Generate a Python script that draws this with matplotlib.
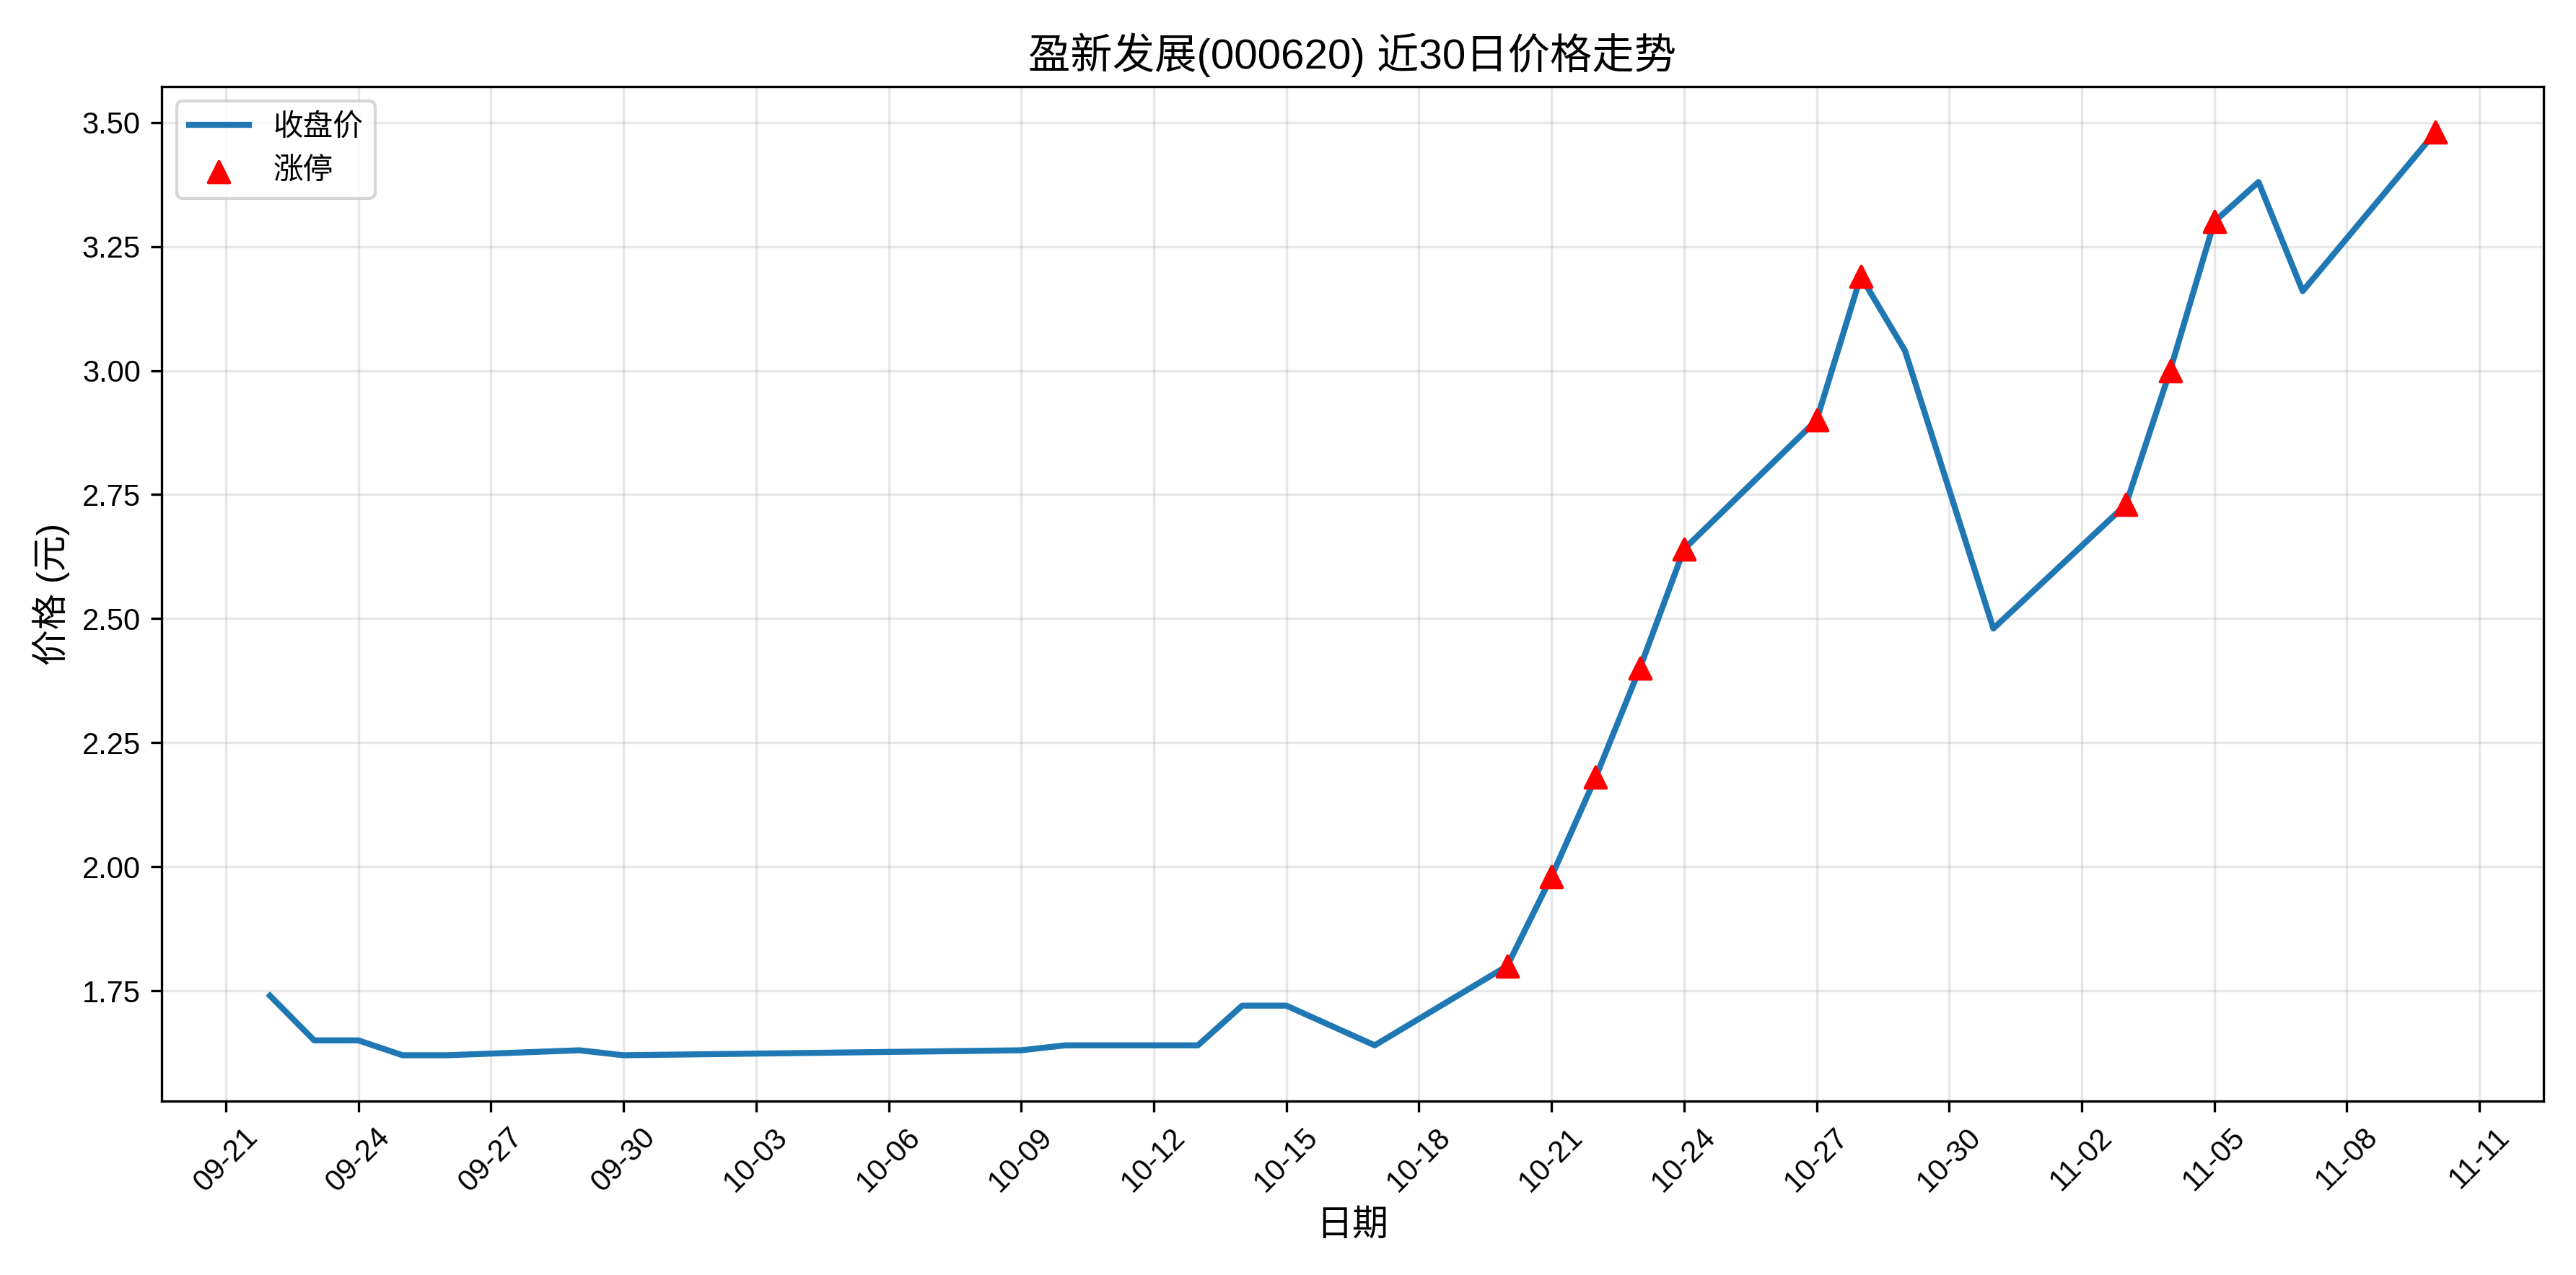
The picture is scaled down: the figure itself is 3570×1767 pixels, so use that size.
import pandas as pd
import matplotlib
matplotlib.use('Agg')
import matplotlib.pyplot as plt
import matplotlib.dates as mdates

plt.rcParams['font.family'] = ['Liberation Sans', 'Noto Sans CJK SC', 'DejaVu Sans']
plt.rcParams['axes.unicode_minus'] = False

# 收盘价数据
dates = ['2025-09-22', '2025-09-23', '2025-09-24', '2025-09-25', '2025-09-26',
         '2025-09-29', '2025-09-30', '2025-10-09', '2025-10-10', '2025-10-13',
         '2025-10-14', '2025-10-15', '2025-10-17', '2025-10-20', '2025-10-21',
         '2025-10-22', '2025-10-23', '2025-10-24', '2025-10-27', '2025-10-28',
         '2025-10-29', '2025-10-31', '2025-11-03', '2025-11-04', '2025-11-05',
         '2025-11-06', '2025-11-07', '2025-11-10']
close = [1.74, 1.65, 1.65, 1.62, 1.62, 1.63, 1.62, 1.63, 1.64, 1.64,
         1.72, 1.72, 1.64, 1.80, 1.98, 2.18, 2.40, 2.64, 2.90, 3.19,
         3.04, 2.48, 2.73, 3.00, 3.30, 3.38, 3.16, 3.48]
limit_up = ['2025-10-20', '2025-10-21', '2025-10-22', '2025-10-23', '2025-10-24',
            '2025-10-27', '2025-10-28', '2025-11-03', '2025-11-04', '2025-11-05',
            '2025-11-10']

df = pd.DataFrame({'date': pd.to_datetime(dates), 'close': close})
up = df[df['date'].isin(pd.to_datetime(limit_up))]

fig, ax = plt.subplots(figsize=(11.9, 5.89), dpi=300)
ax.plot(df['date'], df['close'], color='#1f77b4', linewidth=2, label='收盘价')
ax.scatter(up['date'], up['close'], color='red', marker='^', s=50, zorder=5, label='涨停')

ax.set_title('盈新发展(000620) 近30日价格走势', fontsize=14)
ax.set_xlabel('日期', fontsize=12)
ax.set_ylabel('价格 (元)', fontsize=12)
ax.xaxis.set_major_locator(mdates.DayLocator(interval=3))
ax.xaxis.set_major_formatter(mdates.DateFormatter('%m-%d'))
ax.set_xticks(pd.date_range('2025-09-21', '2025-11-11', freq='3D'))
plt.setp(ax.get_xticklabels(), rotation=45)
ax.grid(True, alpha=0.3)
ax.legend(loc='upper left')

plt.tight_layout()
plt.savefig('out.png', dpi=300)
